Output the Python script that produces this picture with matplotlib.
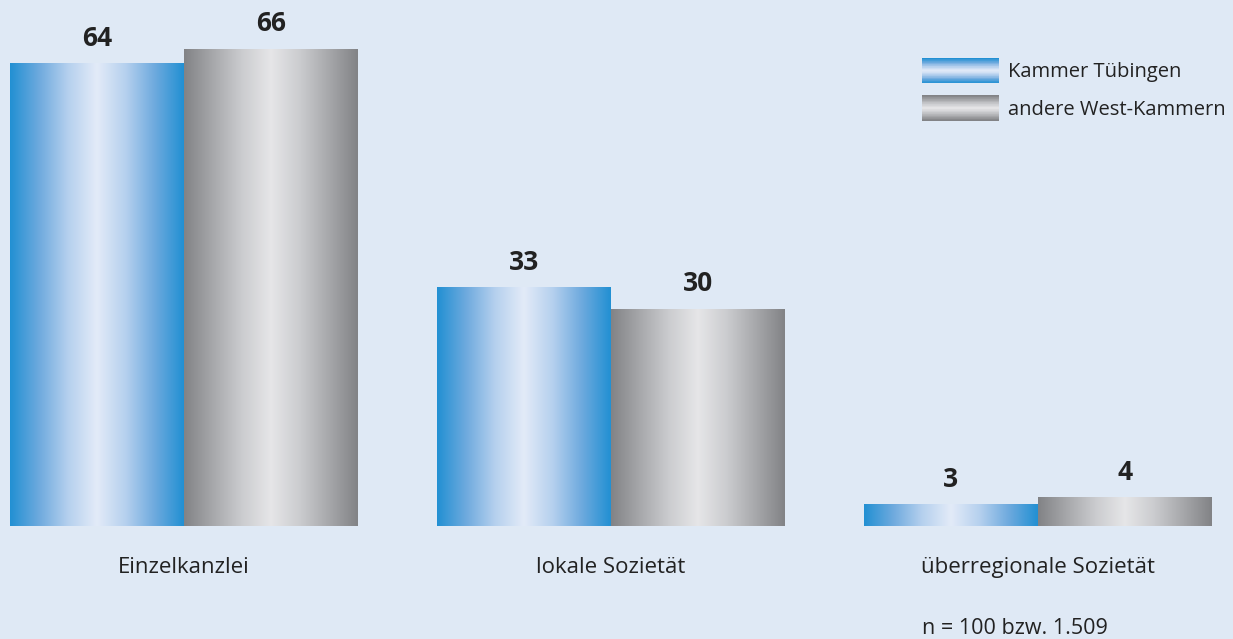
import matplotlib
matplotlib.use('Agg')
import matplotlib.pyplot as plt
import numpy as np
from matplotlib.colors import LinearSegmentedColormap
from matplotlib.patches import Rectangle
from matplotlib.legend_handler import HandlerBase

matplotlib.rc('font', family='Open Sans', size=13)

categories = ['Einzelkanzlei', 'lokale Sozietät', 'überregionale Sozietät']
tuebingen = [64, 33, 3]
west = [66, 30, 4]
series_names = ['Kammer Tübingen', 'andere West-Kammern']
note = 'n = 100 bzw. 1.509'

bg = '#dfe9f5'
blue_cm = LinearSegmentedColormap.from_list(
    'blue', ['#2290d3', '#6eaade', '#b5d0ee', '#e3ebf8', '#b5d0ee', '#6eaade', '#2290d3'])
grey_cm = LinearSegmentedColormap.from_list(
    'grey', ['#828386', '#a7a8ab', '#cbcccf', '#e6e6e8', '#cbcccf', '#a7a8ab', '#828386'])
grad = np.linspace(0, 1, 256).reshape(1, -1)

fig = plt.figure(figsize=(12.33, 6.39), dpi=100, facecolor=bg)
ax = fig.add_axes([0, 0, 1, 1])
ax.set_facecolor(bg)
ax.set_axis_off()

w = 0.4075
x = np.arange(len(categories))


def gradient_bars(xs, vals, cmap):
    bars = ax.bar(xs, vals, w, color='none', linewidth=0)
    for b in bars:
        im = ax.imshow(grad, cmap=cmap, aspect='auto', interpolation='bicubic',
                       extent=(b.get_x(), b.get_x() + b.get_width(), 0, b.get_height()))
        im.set_clip_path(b)
    return bars


b1 = gradient_bars(x - w / 2, tuebingen, blue_cm)
b2 = gradient_bars(x + w / 2, west, grey_cm)
ax.set_xlim(-0.431, 2.457)
ax.set_ylim(-15.62, 72.71)

for bars in (b1, b2):
    for b in bars:
        ax.annotate(str(int(b.get_height())), (b.get_x() + b.get_width() / 2, b.get_height()),
                    xytext=(0, 18), textcoords='offset points', ha='center', va='center',
                    fontsize=19, fontweight='bold', color='#222222')

for xi, c in zip(x, categories):
    ax.text(xi, -5.7, c, ha='center', va='center', fontsize=16, color='#222222')


class GradHandler(HandlerBase):
    def __init__(self, cmap):
        super().__init__()
        self.cmap = cmap

    def create_artists(self, legend, orig, xd, yd, width, height, fontsize, trans):
        arts = []
        n = 40
        h = 18.0
        y0 = -yd + height / 2 - h / 2
        for i in range(n):
            r = Rectangle((-xd, y0 + h * i / n), width, h / n + 0.3,
                          facecolor=self.cmap(i / (n - 1)), edgecolor='none', transform=trans)
            arts.append(r)
        return arts


h1 = Rectangle((0, 0), 1, 1)
h2 = Rectangle((0, 0), 1, 1)
ax.legend([h1, h2], series_names, handler_map={h1: GradHandler(blue_cm), h2: GradHandler(grey_cm)},
          loc='upper left', bbox_to_anchor=(922 / 1233, 1 - 59 / 639), frameon=False, fontsize=14.5,
          handlelength=3.83, handleheight=1.4, handletextpad=0.45, labelspacing=0.7,
          borderaxespad=0, borderpad=0, labelcolor='#222222')

fig.text(922 / 1233, 1 - 628 / 639, note, ha='left', va='center', fontsize=15.5, color='#222222')

plt.savefig('out.png', dpi=100, facecolor=bg)
